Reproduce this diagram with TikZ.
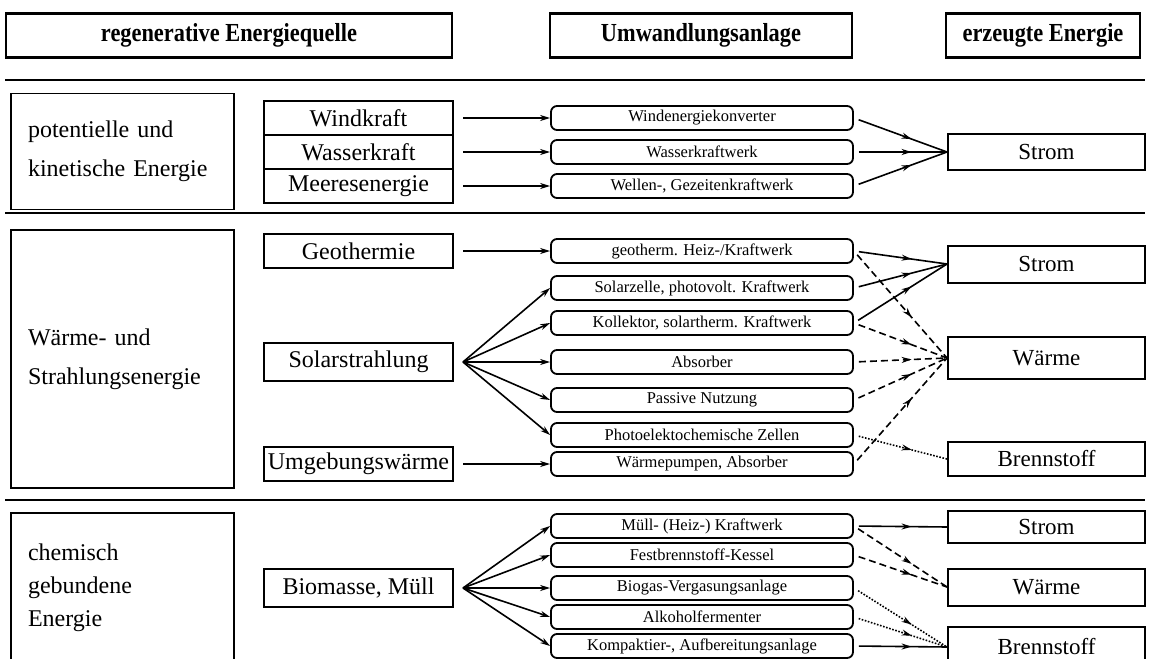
\documentclass[tikz,border=0pt]{standalone}
\usepackage{fontspec}
\setmainfont{Liberation Serif}
\newfontfamily\headfont{Liberation Serif}[FakeStretch=0.86]
\usepackage{tikz}
\usetikzlibrary{positioning, arrows.meta, decorations.markings}
\newcommand{\srcsize}{\fontsize{24}{28}\selectfont}
\newcommand{\convsize}{\fontsize{16.5}{19}\selectfont}
\newcommand{\prodsize}{\fontsize{23}{27}\selectfont}

\begin{document}
\begin{tikzpicture}[x=1pt, y=-1pt,
    head/.style={draw, line width=2.8pt, minimum height=44pt, inner sep=2pt, font=\headfont\bfseries\fontsize{26}{28}\selectfont},
    group/.style={draw, line width=1.8pt, minimum width=223pt, text width=189pt, inner xsep=17pt, align=left, font=\fontsize{24}{39}\selectfont},
    src/.style={draw, line width=1.8pt, outer sep=0pt, minimum width=189pt, minimum height=34pt, inner sep=1pt, font=\srcsize},
    conv/.style={draw, rounded corners=6pt, line width=1.8pt, minimum width=302pt, minimum height=24pt, inner sep=0pt, font=\convsize},
    prod/.style={draw, line width=2pt, minimum width=197pt, minimum height=36pt, font=\prodsize},
    feed/.style={-{Stealth[length=10pt, width=6pt]}, line width=1.6pt},
    yield/.style={line width=1.6pt, shorten <=5pt, decoration={markings, mark=at position 0.62 with {\arrow{Stealth[length=10pt, width=6pt]}}}, postaction={decorate}},
    heat/.style={dash pattern=on 7pt off 4pt},
    fuel/.style={dash pattern=on 1.6pt off 1.6pt},
    rule/.style={line width=2pt}]
    \useasboundingbox (0,0) rectangle (1150,658);
    \clip (0,0) rectangle (1150,658);

    \node[head, minimum width=446pt] (hquelle) at (229,35.5) {regenerative Energiequelle};
    \node[head, minimum width=302pt] (hanlage) at (701,35.5) {Umwandlungsanlage};
    \node[head, minimum width=194pt] (henergie) at (1043,35.5) {erzeugte Energie};
    \draw[rule] (5,80) -- (1145,80);

    \node[group, minimum height=116pt] (pot) at (122.5,151.5) {potentielle und\\kinetische Energie};
    \node[src] (wind) at (358.5,118) {Windkraft};
    \node[src, below=0pt of wind] (wasser) {Wasserkraft};
    \node[src, below=0pt of wasser] (meer) {Meeresenergie};
    \node[conv] (kwind) at (702,118) {Windenergiekonverter};
    \node[conv] (kwasser) at (702,152) {Wasserkraftwerk};
    \node[conv] (kwellen) at (702,186) {Wellen-, Gezeitenkraftwerk};
    \node[prod] (strom1) at (1046.5,152) {Strom};

    \draw[feed, shorten <=10pt] (wind.east) -- (kwind.west);
    \draw[feed, shorten <=10pt] (wasser.east) -- (kwasser.west);
    \draw[feed, shorten <=10pt] (meer.east) -- (kwellen.west);
    \draw[yield] (kwind.east) -- (strom1.west);
    \draw[yield] (kwasser.east) -- (strom1.west);
    \draw[yield] (kwellen.east) -- (strom1.west);
    \draw[rule] (5,213) -- (1145,213);

    \node[group, minimum height=258pt] (strahl) at (122.5,359) {Wärme- und\\Strahlungsenergie};
    \node[src] (geo) at (358.5,251) {Geothermie};
    \node[src, minimum height=38pt] (solar) at (358.5,362) {Solarstrahlung};
    \node[src] (umg) at (358.5,464) {Umgebungswärme};
    \node[conv] (kgeo) at (702,251) {geotherm. Heiz-/Kraftwerk};
    \node[conv] (ksolar) at (702,288) {Solarzelle, photovolt. Kraftwerk};
    \node[conv] (kkoll) at (702,323) {Kollektor, solartherm. Kraftwerk};
    \node[conv] (kabs) at (702,362) {Absorber};
    \node[conv] (kpass) at (702,400) {Passive Nutzung};
    \node[conv] (kphoto) at (702,435) {Photoelektochemische Zellen};
    \node[conv] (kpumpe) at (702,464) {Wärmepumpen, Absorber};
    \node[prod, minimum height=37pt] (strom2) at (1046.5,264) {Strom};
    \node[prod, minimum height=42pt] (waerme2) at (1046.5,358) {Wärme};
    \node[prod, minimum height=34pt] (brenn2) at (1046.5,459) {Brennstoff};
    \coordinate (sfan) at ([xshift=10pt]solar.east);

    \draw[feed, shorten <=10pt] (geo.east) -- (kgeo.west);
    \draw[feed] (sfan) -- (ksolar.west);
    \draw[feed] (sfan) -- (kkoll.west);
    \draw[feed] (sfan) -- (kabs.west);
    \draw[feed] (sfan) -- (kpass.west);
    \draw[feed] (sfan) -- (kphoto.west);
    \draw[feed, shorten <=10pt] (umg.east) -- (kpumpe.west);
    \draw[yield] (kgeo.east) -- (strom2.west);
    \draw[yield] (ksolar.east) -- (strom2.west);
    \draw[yield] (kkoll.east) -- (strom2.west);
    \draw[yield, heat] (kgeo.east) -- (waerme2.west);
    \draw[yield, heat] (kkoll.east) -- (waerme2.west);
    \draw[yield, heat] (kabs.east) -- (waerme2.west);
    \draw[yield, heat] (kpass.east) -- (waerme2.west);
    \draw[yield, heat] (kpumpe.east) -- (waerme2.west);
    \draw[yield, fuel] (kphoto.east) -- (brenn2.west);
    \draw[rule] (5,500) -- (1145,500);

    \node[group, minimum height=150pt, font=\fontsize{24}{33}\selectfont] (chem) at (122.5,588) {chemisch\\gebundene\\Energie};
    \node[src, minimum height=38pt] (bio) at (358.5,588) {Biomasse, Müll};
    \node[conv] (kmuell) at (702,526) {Müll- (Heiz-) Kraftwerk};
    \node[conv] (kfest) at (702,555) {Festbrennstoff-Kessel};
    \node[conv] (kbiogas) at (702,588) {Biogas-Vergasungsanlage};
    \node[conv] (kalk) at (702,617) {Alkoholfermenter};
    \node[conv] (kkomp) at (702,646) {Kompaktier-, Aufbereitungsanlage};
    \node[prod, minimum height=32pt] (strom3) at (1046.5,527) {Strom};
    \node[prod, minimum height=37pt] (waerme3) at (1046.5,587) {Wärme};
    \node[prod, minimum height=40pt] (brenn3) at (1046.5,647) {Brennstoff};
    \coordinate (bfan) at ([xshift=10pt]bio.east);

    \draw[feed] (bfan) -- (kmuell.west);
    \draw[feed] (bfan) -- (kfest.west);
    \draw[feed] (bfan) -- (kbiogas.west);
    \draw[feed] (bfan) -- (kalk.west);
    \draw[feed] (bfan) -- (kkomp.west);
    \draw[yield] (kmuell.east) -- (strom3.west);
    \draw[yield, heat] (kmuell.east) -- (waerme3.west);
    \draw[yield, heat] (kfest.east) -- (waerme3.west);
    \draw[yield, fuel] (kbiogas.east) -- (brenn3.west);
    \draw[yield, fuel] (kalk.east) -- (brenn3.west);
    \draw[yield] (kkomp.east) -- (brenn3.west);
\end{tikzpicture}
\end{document}
